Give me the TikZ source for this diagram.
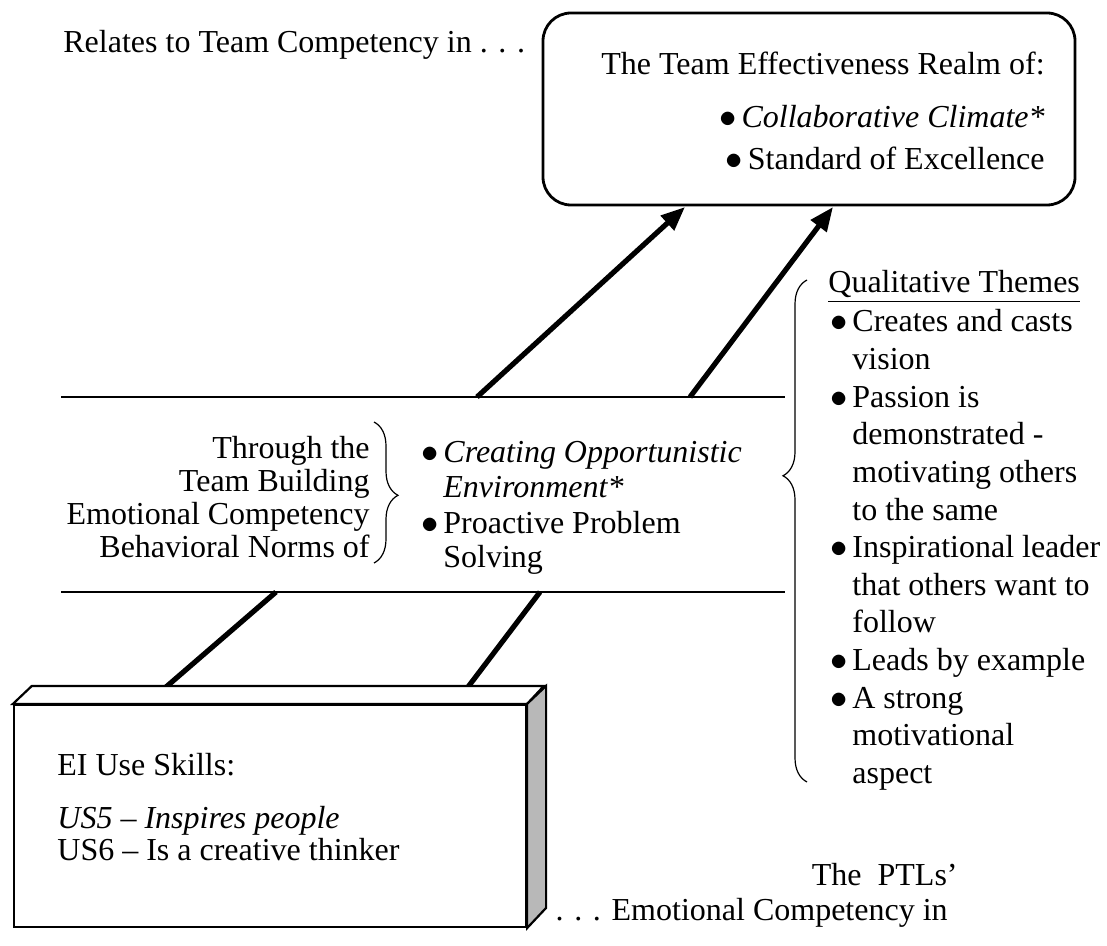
\documentclass[tikz,border=0pt]{standalone}
\usepackage{fontspec}
\setmainfont{Liberation Serif}
\usetikzlibrary{arrows.meta,decorations.pathreplacing}
\newcommand{\bul}{\makebox[11pt][l]{$\bullet$}}
\begin{document}
\begin{tikzpicture}[x=0.5pt,y=-0.5pt,
  txt/.style={inner sep=0pt, font=\fontsize{16}{18}\selectfont},
  lt/.style={txt, anchor=base west},
  rt/.style={txt, anchor=base east},
  thickln/.style={line width=2.6pt},
  arr/.style={thickln, -{Triangle[length=12pt,width=9.5pt]}},
  band/.style={line width=1.4pt},
  bracestyle/.style={decorate, line width=0.6pt},
  boxln/.style={line width=1.1pt, line join=miter}
]
\useasboundingbox (0,0) rectangle (1107,946);

% top-left label
\node[lt] (rel) at (63,53) {Relates to Team Competency in . . .};

% top rounded box
\node[draw, line width=1.4pt, rounded corners=14pt, minimum width=266pt,
      minimum height=96pt, inner sep=0pt] (realm) at (809,109) {};
\node[rt] (realmA) at (1045,75) {The Team Effectiveness Realm of:};
\node[rt] (realmB) at (1045,128) {\bul\textit{Collaborative Climate*}};
\node[rt] (realmC) at (1045,170) {\bul Standard of Excellence};

% band lines
\coordinate (b1l) at (61,397);
\coordinate (b1r) at (785,397);
\coordinate (b2l) at (61,592);
\coordinate (b2r) at (785,592);
\draw[band] (b1l) -- (b1r);
\draw[band] (b2l) -- (b2r);

% arrows to top box
\coordinate (a1s) at (477,397);
\coordinate (a1e) at (685,207);
\coordinate (a2s) at (690,397);
\coordinate (a2e) at (833,207);
\draw[arr] (a1s) -- (a1e);
\draw[arr] (a2s) -- (a2e);

% middle band text
\node[rt] (m1) at (370,458) {Through the};
\node[rt] (m2) at (370,491) {Team Building};
\node[rt] (m3) at (370,524) {Emotional Competency};
\node[rt] (m4) at (370,557) {Behavioral Norms of};
\draw[bracestyle, decoration={brace, amplitude=12pt, aspect=0.52}] (374,422) -- (374,563);
\node[lt] (n1) at (421,462) {\bul\textit{Creating Opportunistic}};
\node[lt] (n2) at (443,497) {\textit{Environment*}};
\node[lt] (n3) at (421,533) {\bul Proactive Problem};
\node[lt] (n4) at (443,567) {Solving};

% lower connectors
\coordinate (l1a) at (166,687);
\coordinate (l1b) at (276,592);
\coordinate (l2a) at (468,687);
\coordinate (l2b) at (540,592);
\draw[thickln] (l1a) -- (l1b);
\draw[thickln] (l2a) -- (l2b);

% 3D box
\node[draw, boxln, minimum width=256pt, minimum height=111pt, inner sep=0pt,
      fill=white] (ei) at (270,816) {};
\draw[boxln, fill=white] (ei.north west) -- ++(19,-18) -- ++(512,0) -- (ei.north east) -- cycle;
\draw[boxln, fill=black!28] (ei.north east) -- ++(19,-18) -- ++(0,222) -- (ei.south east) -- cycle;
\node[lt] (ei1) at (57,775) {EI Use Skills:};
\node[lt] (ei2) at (57,828) {\textit{US5 -- Inspires people}};
\node[lt] (ei3) at (57,860) {US6 -- Is a creative thinker};

% right column
\draw[bracestyle, decoration={brace, amplitude=12pt, aspect=0.61}] (807,782) -- (807,280);
\node[lt] (q0) at (828,293) {\underline{Qualitative Themes}};
\node[lt] (q1) at (830,332) {\bul Creates and casts};
\node[lt] (q2) at (852,369) {vision};
\node[lt] (q3) at (830,407) {\bul Passion is};
\node[lt] (q4) at (852,444) {demonstrated -};
\node[lt] (q5) at (852,482) {motivating others};
\node[lt] (q6) at (852,520) {to the same};
\node[lt] (q7) at (830,557) {\bul Inspirational leader};
\node[lt] (q8) at (852,595) {that others want to};
\node[lt] (q9) at (852,632) {follow};
\node[lt] (q10) at (830,670) {\bul Leads by example};
\node[lt] (q11) at (830,708) {\bul A strong};
\node[lt] (q12) at (852,745) {motivational};
\node[lt] (q13) at (852,783) {aspect};

% bottom right label
\node[rt] (ptl1) at (958,885) {The\ \ PTLs'};
\node[rt] (ptl2) at (948,920) {. . . Emotional Competency in};
\end{tikzpicture}
\end{document}
